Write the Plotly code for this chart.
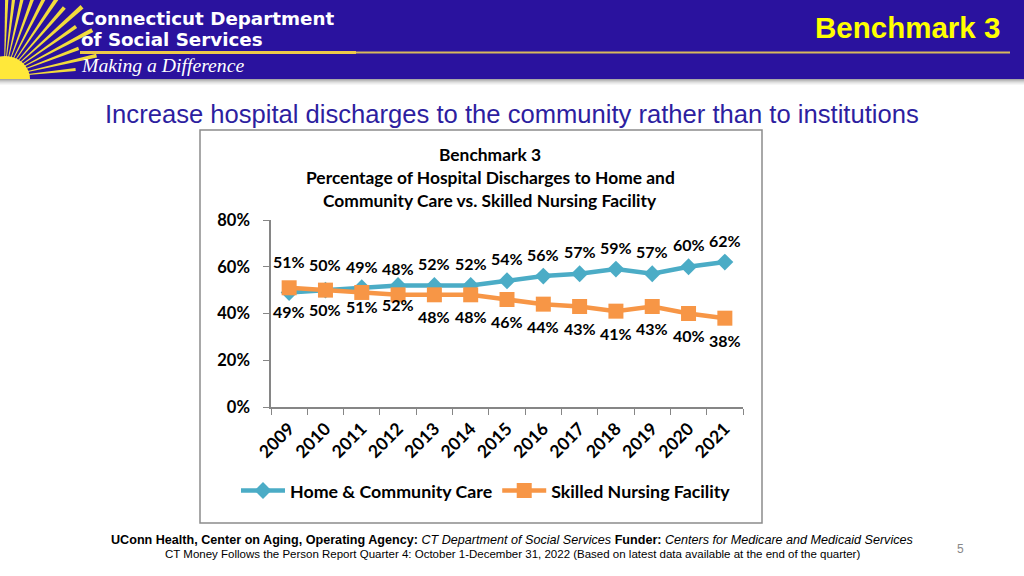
import plotly.graph_objects as go
import math

years = ["2009", "2010", "2011", "2012", "2013", "2014", "2015", "2016", "2017", "2018", "2019", "2020", "2021"]
home_community = [49, 50, 51, 52, 52, 52, 54, 56, 57, 59, 57, 60, 62]
skilled_nursing = [51, 50, 49, 48, 48, 48, 46, 44, 43, 41, 43, 40, 38]
# label placement: first four years Excel put HCBS labels below and SNF labels above
home_label_pos = ["below", "below", "below", "below", "above", "above", "above", "above", "above", "above", "above", "above", "above"]
snf_label_pos = ["above", "above", "above", "above", "below", "below", "below", "below", "below", "below", "below", "below", "below"]

W, H = 1024, 576
BLUE = "#4BACC6"
ORANGE = "#F79646"
CHART_FONT = "Lato"


def px(x):
    return x / W


def py(y):
    return 1 - y / H


fig = go.Figure()
fig.add_trace(go.Scatter(
    x=years, y=home_community, name="Home & Community Care", mode="lines+markers",
    line=dict(color=BLUE, width=4.5), marker=dict(symbol="diamond", size=13, color=BLUE),
    cliponaxis=False,
))
fig.add_trace(go.Scatter(
    x=years, y=skilled_nursing, name="Skilled Nursing Facility", mode="lines+markers",
    line=dict(color=ORANGE, width=4.5), marker=dict(symbol="square", size=15, color=ORANGE),
    cliponaxis=False,
))

label_font = dict(family=CHART_FONT, size=16, color="#000000", weight="bold")
annotations = []
for i, (v, pos) in enumerate(zip(home_community, home_label_pos)):
    annotations.append(dict(x=i, y=v, xref="x", yref="y", text=f"{v}%", showarrow=False,
                            yshift=22 if pos == "above" else -19, font=label_font))
for i, (v, pos) in enumerate(zip(skilled_nursing, snf_label_pos)):
    annotations.append(dict(x=i, y=v, xref="x", yref="y", text=f"{v}%", showarrow=False,
                            yshift=26 if pos == "above" else -22, font=label_font))

# chart title
for txt, yy in [("Benchmark 3", 154), ("Percentage of Hospital Discharges to Home and", 177),
                ("Community Care vs. Skilled Nursing Facility", 200)]:
    annotations.append(dict(x=px(490), y=py(yy), xref="paper", yref="paper", text=txt, showarrow=False,
                            xanchor="center", yanchor="middle",
                            font=dict(family=CHART_FONT, size=17.4, color="#000000", weight="bold")))

# header texts
annotations += [
    dict(x=px(79), y=py(18), xref="paper", yref="paper", text="<b>Connecticut Department</b>", showarrow=False,
         xanchor="left", yanchor="middle", font=dict(family="DejaVu Sans", size=18.3, color="#FFFFFF")),
    dict(x=px(79), y=py(39), xref="paper", yref="paper", text="<b>of Social Services</b>", showarrow=False,
         xanchor="left", yanchor="middle", font=dict(family="DejaVu Sans", size=18.3, color="#FFFFFF")),
    dict(x=px(79), y=py(65), xref="paper", yref="paper", text="<i>Making a Difference</i>", showarrow=False,
         xanchor="left", yanchor="middle", font=dict(family="Liberation Serif", size=19.7, color="#FFFFFF")),
    dict(x=px(1002), y=py(27), xref="paper", yref="paper", text="<b>Benchmark 3</b>", showarrow=False,
         xanchor="right", yanchor="middle", font=dict(family="Liberation Sans", size=29.5, color="#FFFF00")),
    dict(x=px(512), y=py(114), xref="paper", yref="paper",
         text="Increase hospital discharges to the community rather than to institutions", showarrow=False,
         xanchor="center", yanchor="middle", font=dict(family="Liberation Sans", size=25.6, color="#2D1EA0")),
    dict(x=px(512), y=py(540), xref="paper", yref="paper",
         text="<b>UConn Health, Center on Aging, Operating Agency:</b> <i>CT Department of Social Services</i> "
              "<b>Funder:</b> <i>Centers for Medicare and Medicaid Services</i>",
         showarrow=False, xanchor="center", yanchor="middle",
         font=dict(family="Liberation Sans", size=12.6, color="#000000")),
    dict(x=px(512), y=py(554), xref="paper", yref="paper",
         text="CT Money Follows the Person Report Quarter 4: October 1-December 31, 2022 (Based on latest data available at the end of the quarter)",
         showarrow=False, xanchor="center", yanchor="middle",
         font=dict(family="Liberation Sans", size=11.5, color="#000000")),
    dict(x=px(960), y=py(549), xref="paper", yref="paper", text="5", showarrow=False,
         xanchor="center", yanchor="middle", font=dict(family="Liberation Sans", size=12, color="#888888")),
]

shapes = []
shadow = ["#a8a8a8", "#bdbdbd", "#d0d0d0", "#e0e0e0", "#ececec", "#f6f6f6"]
# header shadow
for i, c in enumerate(shadow):
    shapes.append(dict(type="rect", xref="paper", yref="paper", x0=0, x1=1, y0=py(79 + i + 1), y1=py(79 + i),
                       fillcolor=c, line=dict(width=0), layer="below"))
# header band
shapes.append(dict(type="rect", xref="paper", yref="paper", x0=0, x1=1, y0=py(79), y1=1,
                   fillcolor="#2A129E", line=dict(width=0), layer="below"))
# sun rays
cx, cy = 4, 77
ray_specs = [(6, 72), (13, 95), (21, 80), (28, 100), (35, 88), (42, 105), (49, 92), (56, 100),
             (63, 92), (70, 95), (77, 88), (83, 85), (88, 80)]
for ang, ln in ray_specs:
    a = math.radians(ang)
    half = math.radians(1.2)
    x1 = cx + ln * math.cos(a - half)
    y1 = cy - ln * math.sin(a - half)
    x2 = cx + ln * math.cos(a + half)
    y2 = cy - ln * math.sin(a + half)
    path = f"M {px(cx)},{py(cy)} L {px(x1)},{py(y1)} L {px(x2)},{py(y2)} Z"
    shapes.append(dict(type="path", xref="paper", yref="paper", path=path,
                       fillcolor="#F2DC3C", line=dict(width=0), layer="below"))
shapes.append(dict(type="circle", xref="paper", yref="paper", x0=px(-20), x1=px(30), y0=py(102), y1=py(56),
                   fillcolor="#FFE83A", line=dict(width=0), layer="below"))
# white cover below header for sun circle, then shadow again
shapes.append(dict(type="rect", xref="paper", yref="paper", x0=0, x1=px(40), y0=py(105), y1=py(79),
                   fillcolor="#FFFFFF", line=dict(width=0), layer="below"))
for i, c in enumerate(shadow):
    shapes.append(dict(type="rect", xref="paper", yref="paper", x0=0, x1=px(40), y0=py(79 + i + 1), y1=py(79 + i),
                       fillcolor=c, line=dict(width=0), layer="below"))
# gold rule
shapes.append(dict(type="line", xref="paper", yref="paper", x0=px(355), x1=px(1010), y0=py(52.5), y1=py(52.5),
                   line=dict(color="#D8B85C", width=2), layer="below"))
shapes.append(dict(type="line", xref="paper", yref="paper", x0=px(80), x1=px(356), y0=py(52.5), y1=py(52.5),
                   line=dict(color="#EDC948", width=3), layer="below"))
# chart frame
shapes.append(dict(type="rect", xref="paper", yref="paper", x0=px(200), x1=px(762), y0=py(523), y1=py(130),
                   fillcolor="#FFFFFF", line=dict(color="#8C8C8C", width=1.5), layer="below"))

fig.update_layout(
    width=W, height=H, margin=dict(l=0, r=0, t=0, b=0, pad=0, autoexpand=False),
    paper_bgcolor="#FFFFFF", plot_bgcolor="rgba(0,0,0,0)",
    showlegend=True,
    legend=dict(orientation="h", x=px(486), y=py(491), xanchor="center", yanchor="middle",
                font=dict(family=CHART_FONT, size=17.8, color="#000000", weight="bold"),
                bgcolor="rgba(0,0,0,0)", itemwidth=44, tracegroupgap=0),
    xaxis=dict(domain=[px(271), px(743)], type="category", range=[-0.5, 12.5],
               showline=True, linecolor="#868686", linewidth=1.5, showgrid=False, zeroline=False,
               ticks="outside", tickson="boundaries", ticklen=6, tickcolor="#868686", tickangle=-45,
               ticklabelstandoff=3,
               tickfont=dict(family=CHART_FONT, size=17.5, color="#000000", weight="bold")),
    yaxis=dict(domain=[py(407), py(220)], range=[0, 80], dtick=20, ticksuffix="%",
               showline=True, linecolor="#868686", linewidth=1.5, showgrid=False, zeroline=False,
               ticks="outside", ticklen=6, tickcolor="#868686", ticklabelstandoff=10,
               tickfont=dict(family=CHART_FONT, size=16.5, color="#000000", weight="bold")),
    annotations=annotations, shapes=shapes,
)

fig.write_html(
    "out.html",
    config={"displayModeBar": False},
    post_script="document.documentElement.style.margin='0';document.body.style.margin='0';"
                "document.body.style.padding='0';document.body.style.overflow='hidden';",
)
